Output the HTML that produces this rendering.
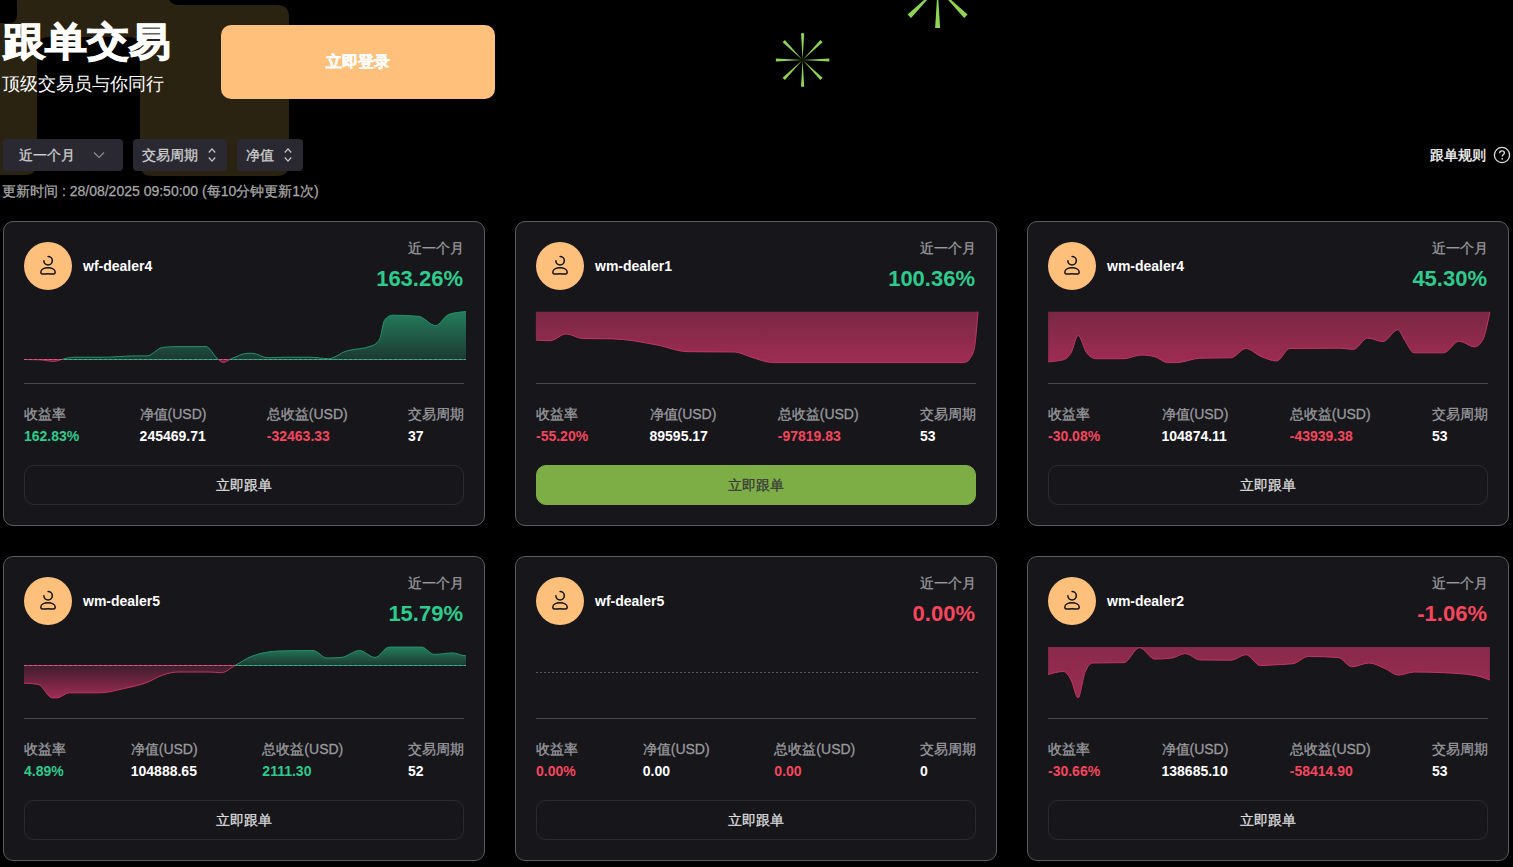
<!DOCTYPE html>
<html><head><meta charset="utf-8"><style>
*{box-sizing:border-box;margin:0;padding:0}
html,body{width:1513px;height:867px;overflow:hidden;background:#000}
body{position:relative;font-family:"Liberation Sans",sans-serif;color:#fff}
.abs{position:absolute}
.title{position:absolute;left:3px;top:19px;font-size:42px;line-height:50px;font-weight:bold;-webkit-text-stroke:1.3px #fff;letter-spacing:0px;white-space:nowrap;transform:scaleY(0.93);transform-origin:0 0}
.sub{position:absolute;left:2px;top:72px;font-size:18px;line-height:24px;white-space:nowrap}
.login{position:absolute;left:221px;top:25px;width:274px;height:74px;border-radius:10px;background:#ffc07c;color:#fff;font-size:16px;font-weight:bold;line-height:74px;text-align:center;-webkit-text-stroke:0.3px #fff}
.flt{position:absolute;top:139px;height:32px;border-radius:4px;background:#2a2932;color:#d0d0d0;font-size:14px;line-height:32px;white-space:nowrap}
.flt span{position:absolute;top:0;-webkit-text-stroke:0.3px #d0d0d0}
.rules{position:absolute;left:1430px;top:146px;font-size:14px;line-height:18px;color:#fff;white-space:nowrap;-webkit-text-stroke:0.3px #fff}
.upd{position:absolute;left:2px;top:182px;font-size:14px;line-height:18px;color:#aaa;white-space:nowrap;-webkit-text-stroke:0.25px #aaa}
.card{position:absolute;width:482px;height:305px;border:1px solid #5c5c60;border-radius:10px;background:#17161b}
.av{position:absolute;left:20px;top:20px;width:48px;height:48px}
.av svg{display:block}
.nm{position:absolute;left:79px;top:35px;font-size:14px;line-height:18px;font-weight:bold;white-space:nowrap}
.per{position:absolute;right:20px;top:16px;font-size:14px;line-height:20px;color:#9a9a9e;white-space:nowrap;-webkit-text-stroke:0.3px #9a9a9e}
.pct{position:absolute;right:21px;top:43px;font-size:22px;line-height:28px;font-weight:bold;white-space:nowrap}
.div{position:absolute;left:20px;top:161px;width:440px;height:1px;background:#4a4a4c}
.stats{position:absolute;left:20px;top:183px;width:440px;display:flex;justify-content:space-between}
.lb{font-size:14px;line-height:18px;color:#9a9a9e;white-space:nowrap;-webkit-text-stroke:0.3px #9a9a9e}
.vl{font-size:14px;line-height:18px;margin-top:4px;font-weight:bold;color:#fff;white-space:nowrap}
.btn{position:absolute;left:20px;top:243px;width:440px;height:40px;border:1px solid #2c2c30;border-radius:10px;text-align:center;line-height:38px;font-size:14px;color:#dcdcdc;-webkit-text-stroke:0.3px currentColor}
svg.ov{position:absolute;left:0;top:0}
</style></head><body>
<svg class="ov" width="1513" height="220" viewBox="0 0 1513 220">
<path d="M17,0 L169,0 Q172,5 179,5 L277,5 Q289,5 289,17 L289,164 Q289,176 277,176 L152,176 Q140,176 140,164 L140,49 Q140,37 128,37 L49,37 Q37,37 37,49 L37,163 Q37,175 25,175 L0,175 L0,23 L9,23 Q17,23 17,15 Z" fill="#2b2311"/>
<path d="M802.60,60.00 L829.30,61.60 L829.30,58.40 Z" fill="#8fd454"/><path d="M802.60,60.00 L820.35,80.01 L822.61,77.75 Z" fill="#8fd454"/><path d="M802.60,60.00 L801.00,86.70 L804.20,86.70 Z" fill="#8fd454"/><path d="M802.60,60.00 L782.59,77.75 L784.85,80.01 Z" fill="#8fd454"/><path d="M802.60,60.00 L775.90,58.40 L775.90,61.60 Z" fill="#8fd454"/><path d="M802.60,60.00 L784.85,39.99 L782.59,42.25 Z" fill="#8fd454"/><path d="M802.60,60.00 L804.20,33.30 L801.00,33.30 Z" fill="#8fd454"/><path d="M802.60,60.00 L822.61,42.25 L820.35,39.99 Z" fill="#8fd454"/><path d="M937.60,-12.00 L977.60,-9.50 L977.60,-14.50 Z" fill="#8fd454"/><path d="M937.60,-12.00 L964.12,18.05 L967.65,14.52 Z" fill="#8fd454"/><path d="M937.60,-12.00 L935.10,28.00 L940.10,28.00 Z" fill="#8fd454"/><path d="M937.60,-12.00 L907.55,14.52 L911.08,18.05 Z" fill="#8fd454"/><path d="M937.60,-12.00 L897.60,-14.50 L897.60,-9.50 Z" fill="#8fd454"/><path d="M937.60,-12.00 L911.08,-42.05 L907.55,-38.52 Z" fill="#8fd454"/><path d="M937.60,-12.00 L940.10,-52.00 L935.10,-52.00 Z" fill="#8fd454"/><path d="M937.60,-12.00 L967.65,-38.52 L964.12,-42.05 Z" fill="#8fd454"/>
</svg>
<div class="title">跟单交易</div>
<div class="sub">顶级交易员与你同行</div>
<div class="login">立即登录</div>
<div class="flt" style="left:3px;width:120px"><span style="left:16px">近一个月</span>
<svg class="abs" style="left:90px;top:12px" width="12" height="8" viewBox="0 0 12 8"><path d="M1,1.5 L6,6.5 L11,1.5" fill="none" stroke="#8a8a90" stroke-width="1.2"/></svg></div>
<div class="flt" style="left:133px;width:94px"><span style="left:9px">交易周期</span>
<svg class="abs" style="left:74px;top:7px" width="10" height="18" viewBox="0 0 10 18"><path d="M1.8,6.5 L5,2.8 L8.2,6.5 M1.8,11.5 L5,15.2 L8.2,11.5" fill="none" stroke="#c8c8cc" stroke-width="1.2"/></svg></div>
<div class="flt" style="left:237px;width:66px"><span style="left:9px">净值</span>
<svg class="abs" style="left:46px;top:7px" width="10" height="18" viewBox="0 0 10 18"><path d="M1.8,6.5 L5,2.8 L8.2,6.5 M1.8,11.5 L5,15.2 L8.2,11.5" fill="none" stroke="#c8c8cc" stroke-width="1.2"/></svg></div>
<div class="rules">跟单规则</div>
<svg class="abs" style="left:1493px;top:146px" width="18" height="18" viewBox="0 0 18 18"><circle cx="9" cy="9" r="7.6" fill="none" stroke="#ddd" stroke-width="1.3"/><path d="M6.6,7.2 C6.6,5.6 7.7,4.8 9,4.8 C10.4,4.8 11.4,5.7 11.4,6.9 C11.4,8.4 9.2,8.6 9.2,10.4" fill="none" stroke="#ddd" stroke-width="1.3"/><circle cx="9.2" cy="12.8" r="0.9" fill="#ddd"/></svg>
<div class="upd">更新时间 : 28/08/2025 09:50:00 (每10分钟更新1次)</div>
<div class="card" style="left:3px;top:221px">
<div class="av"><svg width="48" height="48" viewBox="0 0 48 48"><circle cx="24" cy="24" r="24" fill="#ffc07c"/><path d="M24.1 14.5 A4.2 4.2 0 1 1 19.9 18.7" fill="none" stroke="#111" stroke-width="1.5" stroke-linecap="round"/><path d="M16.8 30.2 C16.8 24.3, 31.2 24.3, 31.2 30.2 C31.2 33.2, 27 31.8, 24 31.8 C21 31.8, 16.8 33.2, 16.8 30.2 Z" fill="none" stroke="#111" stroke-width="1.5" stroke-linejoin="round"/></svg></div>
<div class="nm">wf-dealer4</div>
<div class="per">近一个月</div>
<div class="pct" style="color:#2dcb8c">163.26%</div>
<div class="div"></div>
<div class="stats">
 <div class="col"><div class="lb">收益率</div><div class="vl" style="color:#2dcb8c">162.83%</div></div>
 <div class="col"><div class="lb">净值(USD)</div><div class="vl">245469.71</div></div>
 <div class="col"><div class="lb">总收益(USD)</div><div class="vl" style="color:#f6465d">-32463.33</div></div>
 <div class="col"><div class="lb">交易周期</div><div class="vl">37</div></div>
</div>
<div class="btn" style="">立即跟单</div>
</div><div class="card" style="left:515px;top:221px">
<div class="av"><svg width="48" height="48" viewBox="0 0 48 48"><circle cx="24" cy="24" r="24" fill="#ffc07c"/><path d="M24.1 14.5 A4.2 4.2 0 1 1 19.9 18.7" fill="none" stroke="#111" stroke-width="1.5" stroke-linecap="round"/><path d="M16.8 30.2 C16.8 24.3, 31.2 24.3, 31.2 30.2 C31.2 33.2, 27 31.8, 24 31.8 C21 31.8, 16.8 33.2, 16.8 30.2 Z" fill="none" stroke="#111" stroke-width="1.5" stroke-linejoin="round"/></svg></div>
<div class="nm">wm-dealer1</div>
<div class="per">近一个月</div>
<div class="pct" style="color:#2dcb8c">100.36%</div>
<div class="div"></div>
<div class="stats">
 <div class="col"><div class="lb">收益率</div><div class="vl" style="color:#f6465d">-55.20%</div></div>
 <div class="col"><div class="lb">净值(USD)</div><div class="vl">89595.17</div></div>
 <div class="col"><div class="lb">总收益(USD)</div><div class="vl" style="color:#f6465d">-97819.83</div></div>
 <div class="col"><div class="lb">交易周期</div><div class="vl">53</div></div>
</div>
<div class="btn" style="background:#7dae46;border-color:#7dae46;color:#3a3a3a;">立即跟单</div>
</div><div class="card" style="left:1027px;top:221px">
<div class="av"><svg width="48" height="48" viewBox="0 0 48 48"><circle cx="24" cy="24" r="24" fill="#ffc07c"/><path d="M24.1 14.5 A4.2 4.2 0 1 1 19.9 18.7" fill="none" stroke="#111" stroke-width="1.5" stroke-linecap="round"/><path d="M16.8 30.2 C16.8 24.3, 31.2 24.3, 31.2 30.2 C31.2 33.2, 27 31.8, 24 31.8 C21 31.8, 16.8 33.2, 16.8 30.2 Z" fill="none" stroke="#111" stroke-width="1.5" stroke-linejoin="round"/></svg></div>
<div class="nm">wm-dealer4</div>
<div class="per">近一个月</div>
<div class="pct" style="color:#2dcb8c">45.30%</div>
<div class="div"></div>
<div class="stats">
 <div class="col"><div class="lb">收益率</div><div class="vl" style="color:#f6465d">-30.08%</div></div>
 <div class="col"><div class="lb">净值(USD)</div><div class="vl">104874.11</div></div>
 <div class="col"><div class="lb">总收益(USD)</div><div class="vl" style="color:#f6465d">-43939.38</div></div>
 <div class="col"><div class="lb">交易周期</div><div class="vl">53</div></div>
</div>
<div class="btn" style="">立即跟单</div>
</div><div class="card" style="left:3px;top:556px">
<div class="av"><svg width="48" height="48" viewBox="0 0 48 48"><circle cx="24" cy="24" r="24" fill="#ffc07c"/><path d="M24.1 14.5 A4.2 4.2 0 1 1 19.9 18.7" fill="none" stroke="#111" stroke-width="1.5" stroke-linecap="round"/><path d="M16.8 30.2 C16.8 24.3, 31.2 24.3, 31.2 30.2 C31.2 33.2, 27 31.8, 24 31.8 C21 31.8, 16.8 33.2, 16.8 30.2 Z" fill="none" stroke="#111" stroke-width="1.5" stroke-linejoin="round"/></svg></div>
<div class="nm">wm-dealer5</div>
<div class="per">近一个月</div>
<div class="pct" style="color:#2dcb8c">15.79%</div>
<div class="div"></div>
<div class="stats">
 <div class="col"><div class="lb">收益率</div><div class="vl" style="color:#2dcb8c">4.89%</div></div>
 <div class="col"><div class="lb">净值(USD)</div><div class="vl">104888.65</div></div>
 <div class="col"><div class="lb">总收益(USD)</div><div class="vl" style="color:#2dcb8c">2111.30</div></div>
 <div class="col"><div class="lb">交易周期</div><div class="vl">52</div></div>
</div>
<div class="btn" style="">立即跟单</div>
</div><div class="card" style="left:515px;top:556px">
<div class="av"><svg width="48" height="48" viewBox="0 0 48 48"><circle cx="24" cy="24" r="24" fill="#ffc07c"/><path d="M24.1 14.5 A4.2 4.2 0 1 1 19.9 18.7" fill="none" stroke="#111" stroke-width="1.5" stroke-linecap="round"/><path d="M16.8 30.2 C16.8 24.3, 31.2 24.3, 31.2 30.2 C31.2 33.2, 27 31.8, 24 31.8 C21 31.8, 16.8 33.2, 16.8 30.2 Z" fill="none" stroke="#111" stroke-width="1.5" stroke-linejoin="round"/></svg></div>
<div class="nm">wf-dealer5</div>
<div class="per">近一个月</div>
<div class="pct" style="color:#f6465d">0.00%</div>
<div class="div"></div>
<div class="stats">
 <div class="col"><div class="lb">收益率</div><div class="vl" style="color:#f6465d">0.00%</div></div>
 <div class="col"><div class="lb">净值(USD)</div><div class="vl">0.00</div></div>
 <div class="col"><div class="lb">总收益(USD)</div><div class="vl" style="color:#f6465d">0.00</div></div>
 <div class="col"><div class="lb">交易周期</div><div class="vl">0</div></div>
</div>
<div class="btn" style="">立即跟单</div>
</div><div class="card" style="left:1027px;top:556px">
<div class="av"><svg width="48" height="48" viewBox="0 0 48 48"><circle cx="24" cy="24" r="24" fill="#ffc07c"/><path d="M24.1 14.5 A4.2 4.2 0 1 1 19.9 18.7" fill="none" stroke="#111" stroke-width="1.5" stroke-linecap="round"/><path d="M16.8 30.2 C16.8 24.3, 31.2 24.3, 31.2 30.2 C31.2 33.2, 27 31.8, 24 31.8 C21 31.8, 16.8 33.2, 16.8 30.2 Z" fill="none" stroke="#111" stroke-width="1.5" stroke-linejoin="round"/></svg></div>
<div class="nm">wm-dealer2</div>
<div class="per">近一个月</div>
<div class="pct" style="color:#f6465d">-1.06%</div>
<div class="div"></div>
<div class="stats">
 <div class="col"><div class="lb">收益率</div><div class="vl" style="color:#f6465d">-30.66%</div></div>
 <div class="col"><div class="lb">净值(USD)</div><div class="vl">138685.10</div></div>
 <div class="col"><div class="lb">总收益(USD)</div><div class="vl" style="color:#f6465d">-58414.90</div></div>
 <div class="col"><div class="lb">交易周期</div><div class="vl">53</div></div>
</div>
<div class="btn" style="">立即跟单</div>
</div>
<svg class="ov" width="1513" height="867" viewBox="0 0 1513 867" style="pointer-events:none">
<linearGradient id="c1g" x1="0" y1="311.6" x2="0" y2="359" gradientUnits="userSpaceOnUse"><stop offset="0" stop-color="#237d5c"/><stop offset="1" stop-color="#1d3a32"/></linearGradient>
<linearGradient id="c1r" x1="0" y1="359" x2="0" y2="363" gradientUnits="userSpaceOnUse"><stop offset="0" stop-color="#3e1d2c"/><stop offset="1" stop-color="#a02c54"/></linearGradient>
<clipPath id="c1ca"><rect x="0" y="0" width="1513" height="359"/></clipPath>
<clipPath id="c1cb"><rect x="0" y="359" width="1513" height="400"/></clipPath>
<g clip-path="url(#c1ca)"><path d="M24,359 L24,359.5 C29.3,359.6 34.6,359.6 39.9,359.8 C44.5,360.0 49.2,361.4 53.8,361.4 C56.9,361.4 60.1,359.7 63.2,359.0 C66.8,358.2 70.4,357.2 74.0,357.2 C85.4,357.2 96.8,357.2 108.2,357.2 C116.0,357.2 123.7,355.9 131.5,355.9 C136.7,355.9 141.8,355.9 147.0,355.9 C152.2,355.9 157.4,347.9 162.6,347.4 C167.8,346.9 172.9,346.6 178.1,346.6 C187.4,346.6 196.7,346.6 206.0,346.6 C209.7,346.6 213.3,355.2 217.0,358.2 C219.0,359.9 221.1,362.4 223.1,362.4 C225.7,362.4 228.3,360.0 230.9,359.0 C236.6,356.7 242.3,353.3 248.0,353.3 C249.5,353.3 250.9,353.3 252.4,353.3 C257.6,353.3 262.8,357.8 268.0,357.8 C274.2,357.8 280.4,357.2 286.6,357.2 C294.4,357.2 302.1,357.2 309.9,357.2 C316.1,357.2 322.3,358.7 328.5,358.7 C334.2,358.7 339.9,353.3 345.6,351.3 C354.4,348.3 363.2,349.5 372.0,345.8 C374.6,344.7 377.2,343.5 379.8,338.8 C381.4,336.0 382.9,322.2 384.5,320.2 C387.1,316.9 389.6,315.2 392.2,315.2 C401.0,315.2 409.8,315.6 418.6,316.3 C424.3,316.8 430.0,325.6 435.7,325.6 C439.8,325.6 444.0,316.6 448.1,314.8 C452.3,313.0 456.4,312.6 460.6,312.1 C462.4,311.9 464.2,311.7 466.0,311.6 L466,359 Z" fill="url(#c1g)"/><path d="M24,359.5 C29.3,359.6 34.6,359.6 39.9,359.8 C44.5,360.0 49.2,361.4 53.8,361.4 C56.9,361.4 60.1,359.7 63.2,359.0 C66.8,358.2 70.4,357.2 74.0,357.2 C85.4,357.2 96.8,357.2 108.2,357.2 C116.0,357.2 123.7,355.9 131.5,355.9 C136.7,355.9 141.8,355.9 147.0,355.9 C152.2,355.9 157.4,347.9 162.6,347.4 C167.8,346.9 172.9,346.6 178.1,346.6 C187.4,346.6 196.7,346.6 206.0,346.6 C209.7,346.6 213.3,355.2 217.0,358.2 C219.0,359.9 221.1,362.4 223.1,362.4 C225.7,362.4 228.3,360.0 230.9,359.0 C236.6,356.7 242.3,353.3 248.0,353.3 C249.5,353.3 250.9,353.3 252.4,353.3 C257.6,353.3 262.8,357.8 268.0,357.8 C274.2,357.8 280.4,357.2 286.6,357.2 C294.4,357.2 302.1,357.2 309.9,357.2 C316.1,357.2 322.3,358.7 328.5,358.7 C334.2,358.7 339.9,353.3 345.6,351.3 C354.4,348.3 363.2,349.5 372.0,345.8 C374.6,344.7 377.2,343.5 379.8,338.8 C381.4,336.0 382.9,322.2 384.5,320.2 C387.1,316.9 389.6,315.2 392.2,315.2 C401.0,315.2 409.8,315.6 418.6,316.3 C424.3,316.8 430.0,325.6 435.7,325.6 C439.8,325.6 444.0,316.6 448.1,314.8 C452.3,313.0 456.4,312.6 460.6,312.1 C462.4,311.9 464.2,311.7 466.0,311.6" fill="none" stroke="#25936a" stroke-width="1"/></g>
<g clip-path="url(#c1cb)"><path d="M24,359 L24,359.5 C29.3,359.6 34.6,359.6 39.9,359.8 C44.5,360.0 49.2,361.4 53.8,361.4 C56.9,361.4 60.1,359.7 63.2,359.0 C66.8,358.2 70.4,357.2 74.0,357.2 C85.4,357.2 96.8,357.2 108.2,357.2 C116.0,357.2 123.7,355.9 131.5,355.9 C136.7,355.9 141.8,355.9 147.0,355.9 C152.2,355.9 157.4,347.9 162.6,347.4 C167.8,346.9 172.9,346.6 178.1,346.6 C187.4,346.6 196.7,346.6 206.0,346.6 C209.7,346.6 213.3,355.2 217.0,358.2 C219.0,359.9 221.1,362.4 223.1,362.4 C225.7,362.4 228.3,360.0 230.9,359.0 C236.6,356.7 242.3,353.3 248.0,353.3 C249.5,353.3 250.9,353.3 252.4,353.3 C257.6,353.3 262.8,357.8 268.0,357.8 C274.2,357.8 280.4,357.2 286.6,357.2 C294.4,357.2 302.1,357.2 309.9,357.2 C316.1,357.2 322.3,358.7 328.5,358.7 C334.2,358.7 339.9,353.3 345.6,351.3 C354.4,348.3 363.2,349.5 372.0,345.8 C374.6,344.7 377.2,343.5 379.8,338.8 C381.4,336.0 382.9,322.2 384.5,320.2 C387.1,316.9 389.6,315.2 392.2,315.2 C401.0,315.2 409.8,315.6 418.6,316.3 C424.3,316.8 430.0,325.6 435.7,325.6 C439.8,325.6 444.0,316.6 448.1,314.8 C452.3,313.0 456.4,312.6 460.6,312.1 C462.4,311.9 464.2,311.7 466.0,311.6 L466,359 Z" fill="url(#c1r)"/><path d="M24,359.5 C29.3,359.6 34.6,359.6 39.9,359.8 C44.5,360.0 49.2,361.4 53.8,361.4 C56.9,361.4 60.1,359.7 63.2,359.0 C66.8,358.2 70.4,357.2 74.0,357.2 C85.4,357.2 96.8,357.2 108.2,357.2 C116.0,357.2 123.7,355.9 131.5,355.9 C136.7,355.9 141.8,355.9 147.0,355.9 C152.2,355.9 157.4,347.9 162.6,347.4 C167.8,346.9 172.9,346.6 178.1,346.6 C187.4,346.6 196.7,346.6 206.0,346.6 C209.7,346.6 213.3,355.2 217.0,358.2 C219.0,359.9 221.1,362.4 223.1,362.4 C225.7,362.4 228.3,360.0 230.9,359.0 C236.6,356.7 242.3,353.3 248.0,353.3 C249.5,353.3 250.9,353.3 252.4,353.3 C257.6,353.3 262.8,357.8 268.0,357.8 C274.2,357.8 280.4,357.2 286.6,357.2 C294.4,357.2 302.1,357.2 309.9,357.2 C316.1,357.2 322.3,358.7 328.5,358.7 C334.2,358.7 339.9,353.3 345.6,351.3 C354.4,348.3 363.2,349.5 372.0,345.8 C374.6,344.7 377.2,343.5 379.8,338.8 C381.4,336.0 382.9,322.2 384.5,320.2 C387.1,316.9 389.6,315.2 392.2,315.2 C401.0,315.2 409.8,315.6 418.6,316.3 C424.3,316.8 430.0,325.6 435.7,325.6 C439.8,325.6 444.0,316.6 448.1,314.8 C452.3,313.0 456.4,312.6 460.6,312.1 C462.4,311.9 464.2,311.7 466.0,311.6" fill="none" stroke="#c2365f" stroke-width="1"/></g>
<line x1="24.0" y1="359.5" x2="63.2" y2="359.5" stroke="#c2365f" stroke-width="1"/><line x1="63.2" y1="359.5" x2="218.2" y2="359.5" stroke="#25936a" stroke-width="1"/><line x1="218.2" y1="359.5" x2="230.9" y2="359.5" stroke="#c2365f" stroke-width="1"/><line x1="230.9" y1="359.5" x2="466.0" y2="359.5" stroke="#25936a" stroke-width="1"/><line x1="24" y1="359.5" x2="466" y2="359.5" stroke="rgba(255,255,255,0.2)" stroke-width="1" stroke-dasharray="3,2"/><linearGradient id="c2" x1="0" y1="0" x2="0" y2="1"><stop offset="0" stop-color="#7a2844"/><stop offset="1" stop-color="#9e2c52"/></linearGradient>
<path d="M535.9,311.8 L535.9,340.1 C540.6,340.4 545.2,340.7 549.9,340.7 C555.3,340.7 560.8,333.9 566.2,333.9 C571.6,333.9 577.1,338.4 582.5,338.5 C592.3,338.7 602.2,338.6 612.0,338.8 C627.0,339.1 642.0,342.2 657.0,345.0 C667.4,346.9 677.7,351.6 688.1,351.7 C703.6,351.9 719.2,351.8 734.7,352.0 C739.8,352.1 744.9,355.2 750.0,356.7 C757.8,358.9 765.5,362.6 773.3,362.6 C837.0,362.6 900.7,362.6 964.4,362.6 C967.5,362.6 970.6,358.8 973.7,351.3 C975.1,347.8 976.6,329.7 978.0,311.6 L978,311.8 Z" fill="url(#c2)"/>
<path d="M535.9,340.1 C540.6,340.4 545.2,340.7 549.9,340.7 C555.3,340.7 560.8,333.9 566.2,333.9 C571.6,333.9 577.1,338.4 582.5,338.5 C592.3,338.7 602.2,338.6 612.0,338.8 C627.0,339.1 642.0,342.2 657.0,345.0 C667.4,346.9 677.7,351.6 688.1,351.7 C703.6,351.9 719.2,351.8 734.7,352.0 C739.8,352.1 744.9,355.2 750.0,356.7 C757.8,358.9 765.5,362.6 773.3,362.6 C837.0,362.6 900.7,362.6 964.4,362.6 C967.5,362.6 970.6,358.8 973.7,351.3 C975.1,347.8 976.6,329.7 978.0,311.6" fill="none" stroke="#c2365f" stroke-width="1"/><linearGradient id="c3" x1="0" y1="0" x2="0" y2="1"><stop offset="0" stop-color="#7a2844"/><stop offset="1" stop-color="#9e2c52"/></linearGradient>
<path d="M1048.1,311.8 L1048.1,361.8 C1053.2,361.5 1058.2,361.1 1063.3,359.8 C1065.9,359.1 1068.5,357.3 1071.1,352.8 C1073.4,348.8 1075.8,335.4 1078.1,335.4 C1080.9,335.4 1083.8,349.2 1086.6,352.8 C1089.7,356.7 1092.8,358.7 1095.9,358.7 C1105.2,358.7 1114.6,358.7 1123.9,358.7 C1129.6,358.7 1135.3,355.1 1141.0,355.1 C1145.6,355.1 1150.3,355.6 1154.9,356.7 C1159.1,357.7 1163.2,362.6 1167.4,362.6 C1170.5,362.6 1173.6,362.6 1176.7,362.6 C1184.5,362.6 1192.2,358.4 1200.0,358.2 C1210.4,357.9 1220.7,358.1 1231.1,357.8 C1236.0,357.7 1240.9,348.5 1245.8,348.5 C1250.7,348.5 1255.7,354.2 1260.6,356.2 C1265.9,358.4 1271.3,361.0 1276.6,361.0 C1281.0,361.0 1285.5,348.6 1289.9,348.5 C1306.5,348.3 1323.0,348.2 1339.6,348.2 C1344.2,348.2 1348.9,349.4 1353.5,349.4 C1358.2,349.4 1362.8,338.1 1367.5,338.1 C1372.7,338.1 1377.8,341.6 1383.0,341.6 C1387.9,341.6 1392.9,329.8 1397.8,329.8 C1400.1,329.8 1402.5,337.0 1404.8,340.4 C1407.9,344.9 1411.0,352.8 1414.1,352.8 C1423.9,352.8 1433.8,352.8 1443.6,352.8 C1448.8,352.8 1454.0,341.2 1459.2,341.2 C1464.4,341.2 1469.5,346.9 1474.7,346.9 C1477.3,346.9 1479.9,344.7 1482.5,340.4 C1485.0,336.3 1487.4,324.2 1489.9,312.1 L1489.9,311.8 Z" fill="url(#c3)"/>
<path d="M1048.1,361.8 C1053.2,361.5 1058.2,361.1 1063.3,359.8 C1065.9,359.1 1068.5,357.3 1071.1,352.8 C1073.4,348.8 1075.8,335.4 1078.1,335.4 C1080.9,335.4 1083.8,349.2 1086.6,352.8 C1089.7,356.7 1092.8,358.7 1095.9,358.7 C1105.2,358.7 1114.6,358.7 1123.9,358.7 C1129.6,358.7 1135.3,355.1 1141.0,355.1 C1145.6,355.1 1150.3,355.6 1154.9,356.7 C1159.1,357.7 1163.2,362.6 1167.4,362.6 C1170.5,362.6 1173.6,362.6 1176.7,362.6 C1184.5,362.6 1192.2,358.4 1200.0,358.2 C1210.4,357.9 1220.7,358.1 1231.1,357.8 C1236.0,357.7 1240.9,348.5 1245.8,348.5 C1250.7,348.5 1255.7,354.2 1260.6,356.2 C1265.9,358.4 1271.3,361.0 1276.6,361.0 C1281.0,361.0 1285.5,348.6 1289.9,348.5 C1306.5,348.3 1323.0,348.2 1339.6,348.2 C1344.2,348.2 1348.9,349.4 1353.5,349.4 C1358.2,349.4 1362.8,338.1 1367.5,338.1 C1372.7,338.1 1377.8,341.6 1383.0,341.6 C1387.9,341.6 1392.9,329.8 1397.8,329.8 C1400.1,329.8 1402.5,337.0 1404.8,340.4 C1407.9,344.9 1411.0,352.8 1414.1,352.8 C1423.9,352.8 1433.8,352.8 1443.6,352.8 C1448.8,352.8 1454.0,341.2 1459.2,341.2 C1464.4,341.2 1469.5,346.9 1474.7,346.9 C1477.3,346.9 1479.9,344.7 1482.5,340.4 C1485.0,336.3 1487.4,324.2 1489.9,312.1" fill="none" stroke="#c2365f" stroke-width="1"/><linearGradient id="c4g" x1="0" y1="647" x2="0" y2="665.4" gradientUnits="userSpaceOnUse"><stop offset="0" stop-color="#237d5c"/><stop offset="1" stop-color="#1d3a32"/></linearGradient>
<linearGradient id="c4r" x1="0" y1="665.4" x2="0" y2="698" gradientUnits="userSpaceOnUse"><stop offset="0" stop-color="#3e1d2c"/><stop offset="1" stop-color="#a02c54"/></linearGradient>
<clipPath id="c4ca"><rect x="0" y="0" width="1513" height="665.4"/></clipPath>
<clipPath id="c4cb"><rect x="0" y="665.4" width="1513" height="400"/></clipPath>
<g clip-path="url(#c4ca)"><path d="M24,665.4 L24,683.2 C28.8,683.4 33.5,683.6 38.3,684.4 C43.0,685.2 47.6,697.9 52.3,697.9 C53.8,697.9 55.4,697.9 56.9,697.9 C61.1,697.9 65.2,692.8 69.4,692.8 C79.7,692.8 90.1,692.8 100.4,692.8 C108.2,692.8 115.9,690.3 123.7,688.6 C131.5,686.9 139.2,685.4 147.0,682.4 C152.2,680.4 157.4,676.8 162.6,675.1 C167.8,673.4 172.9,672.0 178.1,672.0 C188.5,672.0 198.8,672.0 209.2,672.0 C213.3,672.0 217.5,672.7 221.6,672.7 C226.0,672.7 230.4,668.0 234.8,665.6 C240.7,662.4 246.5,658.2 252.4,656.0 C261.2,652.7 270.0,651.3 278.8,651.0 C290.2,650.7 301.6,650.5 313.0,650.5 C317.7,650.5 322.3,658.0 327.0,658.0 C331.7,658.0 336.3,657.8 341.0,657.5 C347.2,657.1 353.4,650.5 359.6,650.5 C364.8,650.5 369.9,657.5 375.1,657.5 C379.8,657.5 384.4,647.1 389.1,647.1 C400.0,647.1 410.8,647.1 421.7,647.1 C425.9,647.1 430.0,654.4 434.2,654.4 C440.4,654.4 446.6,652.9 452.8,652.9 C456.9,652.9 461.1,655.7 465.2,655.7 C465.5,655.7 465.7,655.7 466.0,655.7 L466,665.4 Z" fill="url(#c4g)"/><path d="M24,683.2 C28.8,683.4 33.5,683.6 38.3,684.4 C43.0,685.2 47.6,697.9 52.3,697.9 C53.8,697.9 55.4,697.9 56.9,697.9 C61.1,697.9 65.2,692.8 69.4,692.8 C79.7,692.8 90.1,692.8 100.4,692.8 C108.2,692.8 115.9,690.3 123.7,688.6 C131.5,686.9 139.2,685.4 147.0,682.4 C152.2,680.4 157.4,676.8 162.6,675.1 C167.8,673.4 172.9,672.0 178.1,672.0 C188.5,672.0 198.8,672.0 209.2,672.0 C213.3,672.0 217.5,672.7 221.6,672.7 C226.0,672.7 230.4,668.0 234.8,665.6 C240.7,662.4 246.5,658.2 252.4,656.0 C261.2,652.7 270.0,651.3 278.8,651.0 C290.2,650.7 301.6,650.5 313.0,650.5 C317.7,650.5 322.3,658.0 327.0,658.0 C331.7,658.0 336.3,657.8 341.0,657.5 C347.2,657.1 353.4,650.5 359.6,650.5 C364.8,650.5 369.9,657.5 375.1,657.5 C379.8,657.5 384.4,647.1 389.1,647.1 C400.0,647.1 410.8,647.1 421.7,647.1 C425.9,647.1 430.0,654.4 434.2,654.4 C440.4,654.4 446.6,652.9 452.8,652.9 C456.9,652.9 461.1,655.7 465.2,655.7 C465.5,655.7 465.7,655.7 466.0,655.7" fill="none" stroke="#25936a" stroke-width="1"/></g>
<g clip-path="url(#c4cb)"><path d="M24,665.4 L24,683.2 C28.8,683.4 33.5,683.6 38.3,684.4 C43.0,685.2 47.6,697.9 52.3,697.9 C53.8,697.9 55.4,697.9 56.9,697.9 C61.1,697.9 65.2,692.8 69.4,692.8 C79.7,692.8 90.1,692.8 100.4,692.8 C108.2,692.8 115.9,690.3 123.7,688.6 C131.5,686.9 139.2,685.4 147.0,682.4 C152.2,680.4 157.4,676.8 162.6,675.1 C167.8,673.4 172.9,672.0 178.1,672.0 C188.5,672.0 198.8,672.0 209.2,672.0 C213.3,672.0 217.5,672.7 221.6,672.7 C226.0,672.7 230.4,668.0 234.8,665.6 C240.7,662.4 246.5,658.2 252.4,656.0 C261.2,652.7 270.0,651.3 278.8,651.0 C290.2,650.7 301.6,650.5 313.0,650.5 C317.7,650.5 322.3,658.0 327.0,658.0 C331.7,658.0 336.3,657.8 341.0,657.5 C347.2,657.1 353.4,650.5 359.6,650.5 C364.8,650.5 369.9,657.5 375.1,657.5 C379.8,657.5 384.4,647.1 389.1,647.1 C400.0,647.1 410.8,647.1 421.7,647.1 C425.9,647.1 430.0,654.4 434.2,654.4 C440.4,654.4 446.6,652.9 452.8,652.9 C456.9,652.9 461.1,655.7 465.2,655.7 C465.5,655.7 465.7,655.7 466.0,655.7 L466,665.4 Z" fill="url(#c4r)"/><path d="M24,683.2 C28.8,683.4 33.5,683.6 38.3,684.4 C43.0,685.2 47.6,697.9 52.3,697.9 C53.8,697.9 55.4,697.9 56.9,697.9 C61.1,697.9 65.2,692.8 69.4,692.8 C79.7,692.8 90.1,692.8 100.4,692.8 C108.2,692.8 115.9,690.3 123.7,688.6 C131.5,686.9 139.2,685.4 147.0,682.4 C152.2,680.4 157.4,676.8 162.6,675.1 C167.8,673.4 172.9,672.0 178.1,672.0 C188.5,672.0 198.8,672.0 209.2,672.0 C213.3,672.0 217.5,672.7 221.6,672.7 C226.0,672.7 230.4,668.0 234.8,665.6 C240.7,662.4 246.5,658.2 252.4,656.0 C261.2,652.7 270.0,651.3 278.8,651.0 C290.2,650.7 301.6,650.5 313.0,650.5 C317.7,650.5 322.3,658.0 327.0,658.0 C331.7,658.0 336.3,657.8 341.0,657.5 C347.2,657.1 353.4,650.5 359.6,650.5 C364.8,650.5 369.9,657.5 375.1,657.5 C379.8,657.5 384.4,647.1 389.1,647.1 C400.0,647.1 410.8,647.1 421.7,647.1 C425.9,647.1 430.0,654.4 434.2,654.4 C440.4,654.4 446.6,652.9 452.8,652.9 C456.9,652.9 461.1,655.7 465.2,655.7 C465.5,655.7 465.7,655.7 466.0,655.7" fill="none" stroke="#c2365f" stroke-width="1"/></g>
<line x1="24.0" y1="665.5" x2="235.2" y2="665.5" stroke="#c2365f" stroke-width="1"/><line x1="235.2" y1="665.5" x2="466.0" y2="665.5" stroke="#25936a" stroke-width="1"/><line x1="24" y1="665.5" x2="466" y2="665.5" stroke="rgba(255,255,255,0.2)" stroke-width="1" stroke-dasharray="3,2"/><line x1="536" y1="672.5" x2="978" y2="672.5" stroke="#5a5a5e" stroke-width="1" stroke-dasharray="2,2"/><linearGradient id="c6" x1="0" y1="0" x2="0" y2="1"><stop offset="0" stop-color="#8a2a4a"/><stop offset="1" stop-color="#9a2c52"/></linearGradient>
<path d="M1048.1,647 L1048.1,674.6 C1053.2,673.1 1058.2,671.5 1063.3,671.5 C1065.9,671.5 1068.5,675.2 1071.1,680.0 C1073.4,684.3 1075.8,697.9 1078.1,697.9 C1080.4,697.9 1082.7,677.8 1085.0,672.3 C1087.6,666.1 1090.2,663.1 1092.8,663.0 C1103.2,662.7 1113.5,662.9 1123.9,662.6 C1129.1,662.5 1134.2,647.7 1139.4,647.7 C1144.6,647.7 1149.7,659.1 1154.9,659.1 C1160.6,659.1 1166.3,658.7 1172.0,658.0 C1176.4,657.4 1180.8,653.6 1185.2,653.6 C1190.1,653.6 1195.1,659.8 1200.0,659.9 C1210.4,660.1 1220.7,660.2 1231.1,660.2 C1236.0,660.2 1240.9,654.7 1245.8,654.7 C1250.7,654.7 1255.7,665.6 1260.6,665.6 C1265.4,665.6 1270.2,665.1 1275.0,664.8 C1281.0,664.5 1287.0,664.4 1293.0,663.7 C1298.2,663.1 1303.3,656.4 1308.5,656.4 C1318.3,656.4 1328.2,656.8 1338.0,657.5 C1342.7,657.8 1347.3,666.8 1352.0,666.8 C1357.7,666.8 1363.4,663.0 1369.1,663.0 C1374.3,663.0 1379.4,666.2 1384.6,668.4 C1389.3,670.3 1393.9,675.1 1398.6,675.1 C1403.8,675.1 1408.9,672.0 1414.1,672.0 C1423.9,672.0 1433.8,672.2 1443.6,672.7 C1454.0,673.2 1464.3,673.6 1474.7,675.4 C1479.8,676.3 1484.8,678.1 1489.9,680.0 L1489.9,647 Z" fill="url(#c6)"/>
<path d="M1048.1,674.6 C1053.2,673.1 1058.2,671.5 1063.3,671.5 C1065.9,671.5 1068.5,675.2 1071.1,680.0 C1073.4,684.3 1075.8,697.9 1078.1,697.9 C1080.4,697.9 1082.7,677.8 1085.0,672.3 C1087.6,666.1 1090.2,663.1 1092.8,663.0 C1103.2,662.7 1113.5,662.9 1123.9,662.6 C1129.1,662.5 1134.2,647.7 1139.4,647.7 C1144.6,647.7 1149.7,659.1 1154.9,659.1 C1160.6,659.1 1166.3,658.7 1172.0,658.0 C1176.4,657.4 1180.8,653.6 1185.2,653.6 C1190.1,653.6 1195.1,659.8 1200.0,659.9 C1210.4,660.1 1220.7,660.2 1231.1,660.2 C1236.0,660.2 1240.9,654.7 1245.8,654.7 C1250.7,654.7 1255.7,665.6 1260.6,665.6 C1265.4,665.6 1270.2,665.1 1275.0,664.8 C1281.0,664.5 1287.0,664.4 1293.0,663.7 C1298.2,663.1 1303.3,656.4 1308.5,656.4 C1318.3,656.4 1328.2,656.8 1338.0,657.5 C1342.7,657.8 1347.3,666.8 1352.0,666.8 C1357.7,666.8 1363.4,663.0 1369.1,663.0 C1374.3,663.0 1379.4,666.2 1384.6,668.4 C1389.3,670.3 1393.9,675.1 1398.6,675.1 C1403.8,675.1 1408.9,672.0 1414.1,672.0 C1423.9,672.0 1433.8,672.2 1443.6,672.7 C1454.0,673.2 1464.3,673.6 1474.7,675.4 C1479.8,676.3 1484.8,678.1 1489.9,680.0" fill="none" stroke="#c2365f" stroke-width="1"/>
</svg>
</body></html>
